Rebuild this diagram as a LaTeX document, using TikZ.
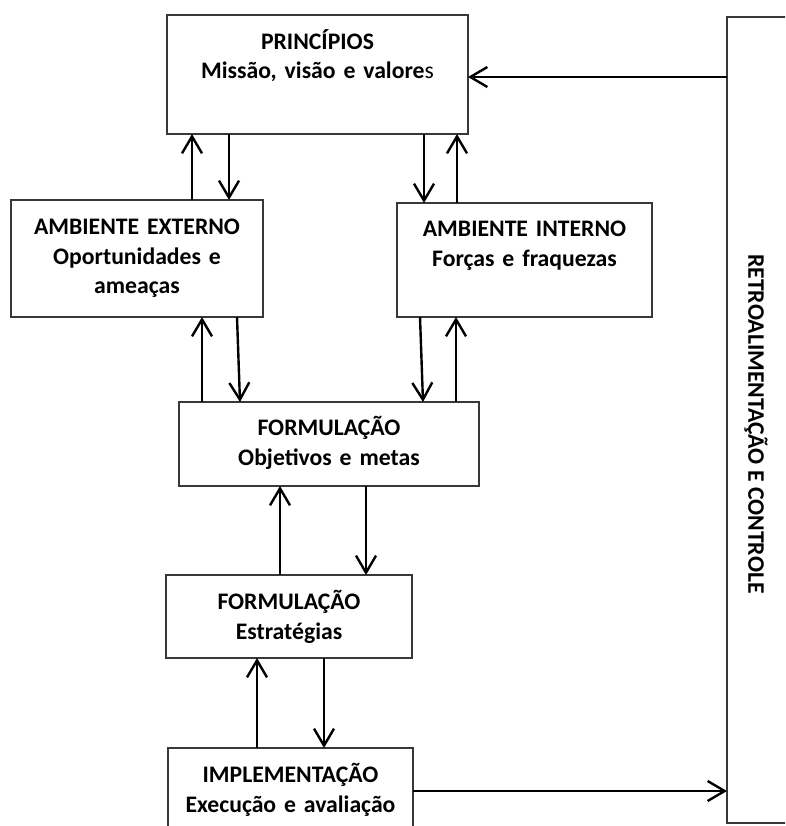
\documentclass[tikz,border=0pt]{standalone}
\usepackage{fontspec}
\setmainfont{Carlito}
\usetikzlibrary{arrows.meta}
\begin{document}
\begin{tikzpicture}[x=1pt,y=-1pt,
  box/.style={draw=black!78, line width=1.4pt, inner sep=0pt, outer sep=0pt},
  lbl/.style={text width=300pt, align=center, anchor=base, inner sep=0pt,
    font=\fontsize{23.7}{29.5}\selectfont\bfseries},
  arr/.style={-{Straight Barb[length=17pt,width=20pt]}, line width=2.4pt}]
\useasboundingbox (0,0) rectangle (785,826);
\clip (0,0) rectangle (785,826);
% boxes
\node[box, minimum width=301pt, minimum height=119pt] (prin) at (317.5,74.5) {};
\node[box, minimum width=252pt, minimum height=117pt] (ext) at (137,258.5) {};
\node[box, minimum width=255pt, minimum height=114pt] (int) at (524.5,260) {};
\node[box, minimum width=300pt, minimum height=84pt] (fobj) at (329,444) {};
\node[box, minimum width=246pt, minimum height=83pt] (fest) at (289,616.5) {};
\node[box, minimum width=245pt, minimum height=102pt] (impl) at (290.5,799) {};
\node[box, minimum width=73pt, minimum height=806pt] (fb) at (763.5,420) {};
% texts
\node[lbl] (prinT) at (317.5,49.5) {PRINCÍPIOS\\Missão, visão e valore{\mdseries s}};
\node[lbl] (extT) at (137,234.5) {AMBIENTE EXTERNO\\Oportunidades e\\ameaças};
\node[lbl] (intT) at (524.5,236.5) {AMBIENTE INTERNO\\Forças e fraquezas};
\node[lbl] (fobjT) at (329,435.5) {FORMULAÇÃO\\Objetivos e metas};
\node[lbl] (festT) at (289,609.5) {FORMULAÇÃO\\Estratégias};
\node[lbl] (implT) at (290.5,782.5) {IMPLEMENTAÇÃO\\Execução e avaliação};
\node[rotate=-90, inner sep=0pt, font=\fontsize{23.7}{29.5}\selectfont\bfseries] (fbT) at (756,424) {RETROALIMENTAÇÃO E CONTROLE};
% connectors
\draw[arr] (fb.west |- 0,77) -- (prin.east |- 0,77);
\draw[arr] (192,0 |- ext.north) -- (192,0 |- prin.south);
\draw[arr] (229,0 |- prin.south) -- (229,0 |- ext.north);
\draw[arr] (424,0 |- prin.south) -- (424,0 |- int.north);
\draw[arr] (457,0 |- int.north) -- (457,0 |- prin.south);
\draw[arr] (202,0 |- fobj.north) -- (202,0 |- ext.south);
\draw[arr] (237,0 |- ext.south) -- (240,0 |- fobj.north);
\draw[arr] (420,0 |- int.south) -- (423,0 |- fobj.north);
\draw[arr] (456,0 |- fobj.north) -- (456,0 |- int.south);
\draw[arr] (280,0 |- fest.north) -- (280,0 |- fobj.south);
\draw[arr] (366,0 |- fobj.south) -- (366,0 |- fest.north);
\draw[arr] (257,0 |- impl.north) -- (257,0 |- fest.south);
\draw[arr] (324,0 |- fest.south) -- (324,0 |- impl.north);
\draw[arr] (impl.east |- 0,791) -- (fb.west |- 0,791);
\end{tikzpicture}
\end{document}
